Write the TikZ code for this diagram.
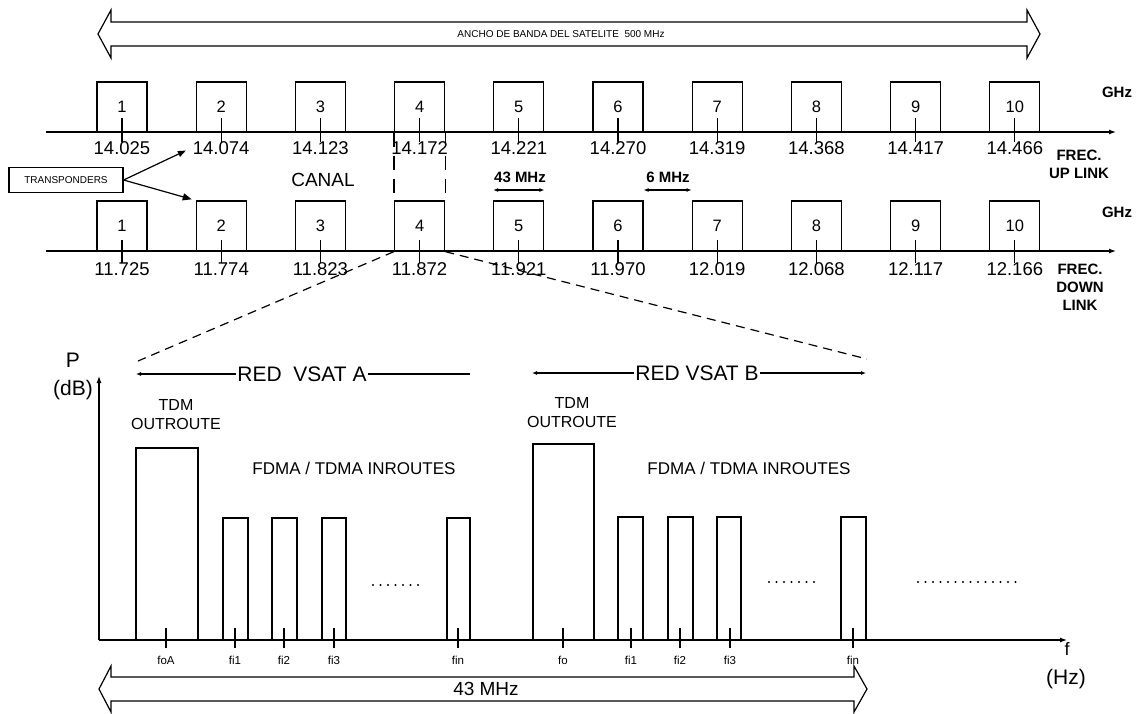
\documentclass[tikz,border=0pt]{standalone}
\usepackage{fontspec}
\setmainfont{Liberation Sans}
\usetikzlibrary{arrows.meta}

\begin{document}
\begin{tikzpicture}[x=1pt,y=-1pt,line width=1.2pt,
  chan/.style={draw,minimum width=50,minimum height=50,inner sep=0,font=\fontsize{16.5}{18}\selectfont},
  freq/.style={inner sep=1,font=\fontsize{18.5}{19}\selectfont},
  unit/.style={align=center,font=\bfseries\fontsize{15}{18}\selectfont},
  big/.style={inner sep=1,font=\fontsize{21}{22}\selectfont},
  route/.style={align=center,font=\fontsize{16}{19}\selectfont},
  sub/.style={inner sep=1,font=\fontsize{11.5}{12}\selectfont},
  tip/.style={-{Latex[length=7pt,width=5pt]}},
  dim/.style={{Latex[length=5pt,width=4pt]}-{Latex[length=5pt,width=4pt]}},
  dots/.style={line width=2.2pt,dash pattern=on 0pt off 7.5pt,line cap=round}]
  \useasboundingbox (0,0) rectangle (1140,713);

  % satellite band
  \draw (98,34) -- (111,10) -- (111,22) -- (1027,22) -- (1027,10) -- (1040,34)
    -- (1027,58) -- (1027,46) -- (111,46) -- (111,58) -- cycle;
  \node[inner sep=1,font=\fontsize{10}{12}\selectfont] (band) at (561,34) {ANCHO DE BANDA DEL SATELITE\ \ 500 MHz};

  % up link and down link
  \draw[tip] (46,132) -- (1116,132);
  \draw[tip] (46,251) -- (1116,251);
  \foreach \i/\fu/\fd in {1/14.025/11.725,2/14.074/11.774,3/14.123/11.823,4/14.172/11.872,
      5/14.221/11.921,6/14.270/11.970,7/14.319/12.019,8/14.368/12.068,9/14.417/12.117,10/14.466/12.166} {
    \node[chan] (u\i) at ({122+(\i-1)*99.2},107) {\i};
    \node[freq] (fu\i) at ({122+(\i-1)*99.2},148) {\fu};
    \draw (u\i.center) ++(0,11) -- ++(0,24);
    \node[chan] (d\i) at ({122+(\i-1)*99.2},226) {\i};
    \node[freq] (fd\i) at ({122+(\i-1)*99.2},269) {\fd};
    \draw (d\i.center) ++(0,14) -- ++(0,23);
  }
  \node[unit] (ghzu) at (1117,92) {GHz};
  \node[unit] (ghzd) at (1117,212) {GHz};
  \node[unit] (up) at (1079,164) {FREC.\\UP LINK};
  \node[unit] (down) at (1080,287) {FREC.\\DOWN\\LINK};

  \node[draw,minimum width=114,minimum height=25,inner sep=0,font=\fontsize{10}{12}\selectfont] (xpd) at (66,180) {TRANSPONDERS};
  \draw[-{Triangle[length=8pt,width=6pt]},shorten >=6pt] (xpd.east) -- (fu2.west);
  \draw[-{Triangle[length=9pt,width=7pt]},shorten >=4pt] (xpd.east) -- (d2.north west);

  \node[inner sep=1,font=\fontsize{19}{20}\selectfont] (canal) at (323,180) {CANAL};
  \draw[dash pattern=on 14pt off 9pt,shorten >=7pt] (u4.south west) -- (d4.north west);
  \draw[dash pattern=on 14pt off 9pt,shorten >=7pt] (u4.south east) -- (d4.north east);
  \node[unit] (mhz43) at (520,177) {43 MHz};
  \draw[dim] (u5.west |- 0,190) -- (u5.east |- 0,190);
  \node[unit] (mhz6) at (668,177) {6 MHz};
  \draw[dim] (u6.east |- 0,190) -- (u7.west |- 0,190);

  % zoom on channel 4
  \coordinate (za) at (138,361);
  \coordinate (zb) at (867,359);
  \draw[dash pattern=on 9pt off 6pt] (d4.south west) -- (za);
  \draw[dash pattern=on 9pt off 6pt] (d4.south east) -- (zb);

  \node[big] (reda) at (302,374) {RED\ \ VSAT A};
  \draw[-{Latex[length=5pt,width=4pt]}] (reda.west) -- (136,374);
  \draw (reda.east) -- (470,374);
  \node[big] (redb) at (697,373) {RED VSAT B};
  \draw[-{Latex[length=5pt,width=4pt]}] (redb.west) -- (532,373);
  \draw[-{Latex[length=5pt,width=4pt]}] (redb.east) -- (866,373);

  % spectrum
  \coordinate (o) at (99,640);
  \draw[tip] (o) -- (99,376);
  \draw[tip] (o) -- (1067,640);
  \node[big] (p) at (73,360) {P};
  \node[big] (db) at (73,390) {(dB)};
  \node[inner sep=0,font=\fontsize{18}{18}\selectfont] (f) at (1067,649) {f};
  \node[big] (hz) at (1066,679) {(Hz)};

  \node[route] (tdma) at (176,415) {TDM\\OUTROUTE};
  \node[route] (tdmb) at (572,413) {TDM\\OUTROUTE};
  \node[inner sep=1,font=\fontsize{17}{18}\selectfont] (fdma) at (354,468) {FDMA / TDMA INROUTES};
  \node[inner sep=1,font=\fontsize{17}{18}\selectfont] (fdmb) at (749,468) {FDMA / TDMA INROUTES};

  \draw (136,640) rectangle (198,448);
  \draw (223,640) rectangle (248,518);
  \draw (272,640) rectangle (297,518);
  \draw (322,640) rectangle (346,518);
  \draw (447,640) rectangle (470,518);
  \draw (533,640) rectangle (594,444);
  \draw (618,640) rectangle (643,517);
  \draw (668,640) rectangle (693,517);
  \draw (717,640) rectangle (741,517);
  \draw (841,640) rectangle (866,517);
  \foreach \x/\t in {166/foA,235/fi1,284/fi2,334/fi3,458/fin,563/fo,631/fi1,680/fi2,730/fi3,853/fin} {
    \draw (\x,628) -- (\x,648);
    \node[sub] (s\x) at (\x,660) {\t};
  }
  \draw[dots] (373,585) -- (418.3,585);
  \draw[dots] (769,582) -- (814.3,582);
  \draw[dots] (918,582) -- (1015.8,582);

  % channel width
  \draw (99,689) -- (111,666) -- (111,677) -- (854,677) -- (854,666) -- (867,689)
    -- (854,712) -- (854,701) -- (111,701) -- (111,712) -- cycle;
  \node[inner sep=1,font=\fontsize{19}{20}\selectfont] (chw) at (486,689) {43 MHz};
\end{tikzpicture}
\end{document}
